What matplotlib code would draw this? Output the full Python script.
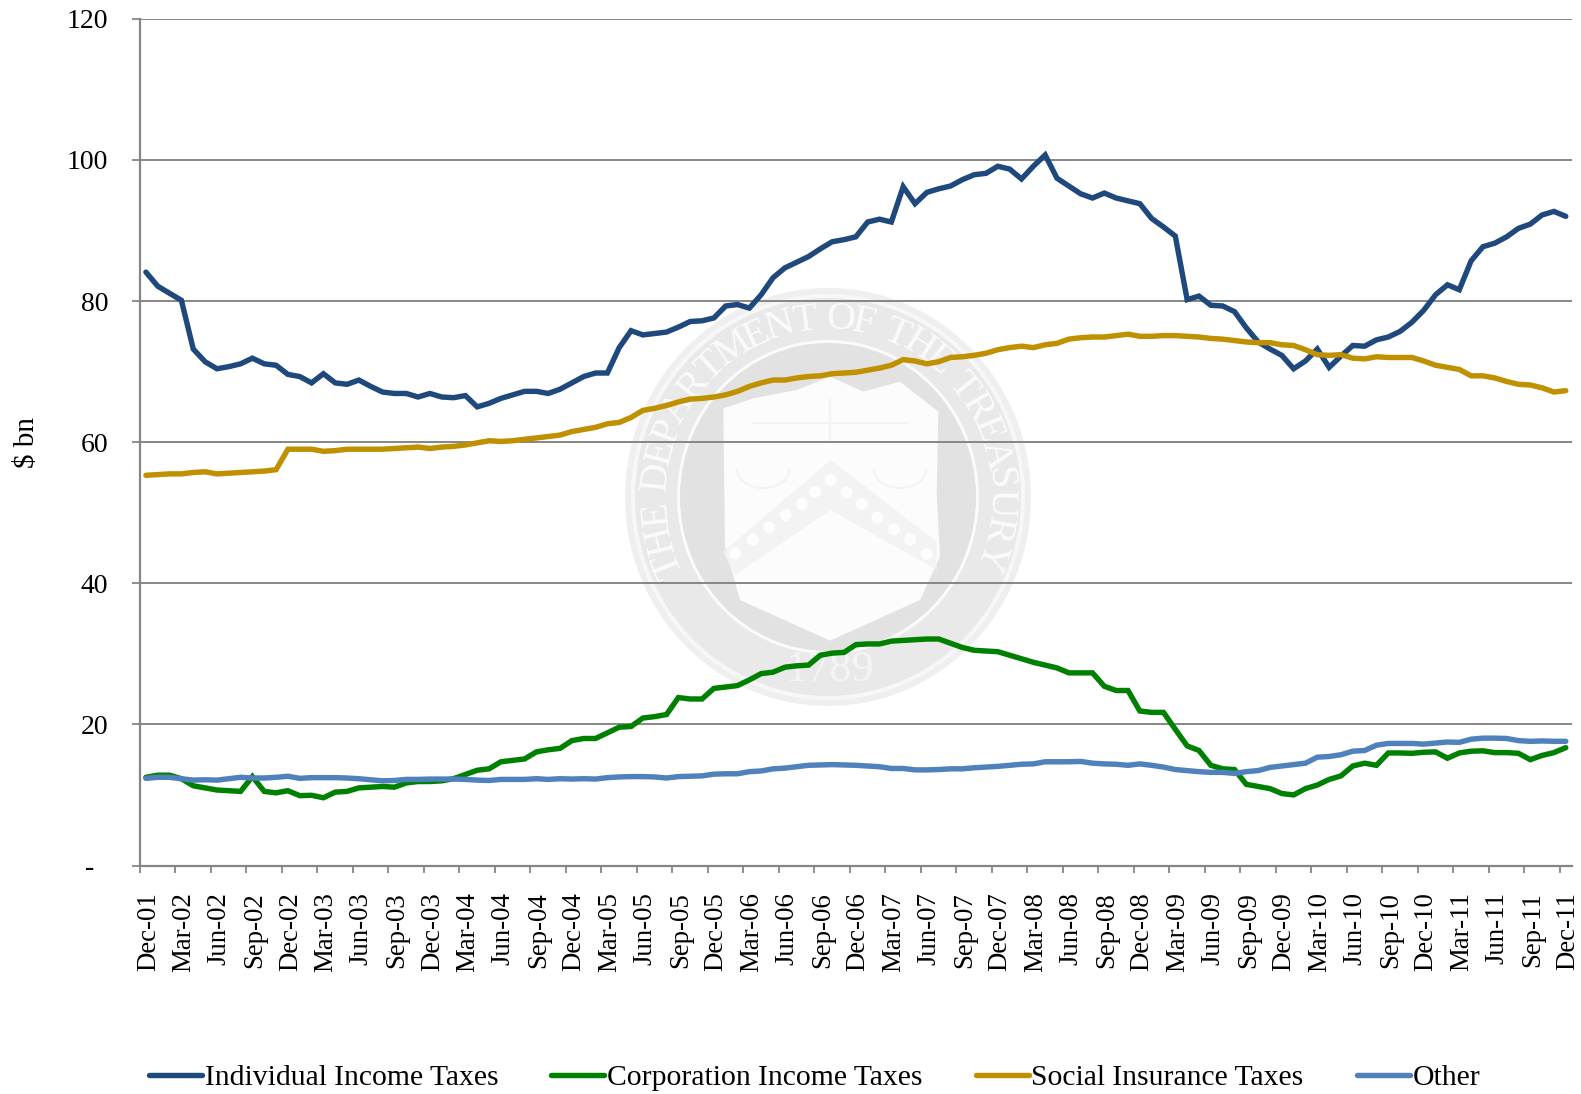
"""Monthly federal tax receipts by source, Dec-01 to Dec-11, with Treasury seal watermark."""
import numpy as np
import matplotlib
matplotlib.use("Agg")
import matplotlib.pyplot as plt
from matplotlib.patches import Ellipse, Polygon
from matplotlib.font_manager import FontProperties
from matplotlib.textpath import TextPath

plt.rcParams["font.family"] = ["Liberation Serif", "DejaVu Serif"]

individual = [
    84.1, 82.1, 81.1, 80.1, 73.2, 71.4, 70.4, 70.7, 71.1, 71.9, 71.1, 70.9,
    69.6, 69.3, 68.4, 69.7, 68.4, 68.2, 68.8, 67.9, 67.1, 66.9, 66.9, 66.4,
    66.9, 66.4, 66.3, 66.6, 65.0, 65.5, 66.2, 66.7, 67.2, 67.2, 66.9, 67.5,
    68.4, 69.3, 69.8, 69.8, 73.4, 75.8, 75.2, 75.4, 75.6, 76.3, 77.1, 77.2,
    77.6, 79.3, 79.5, 79.0, 80.9, 83.3, 84.7, 85.5, 86.3, 87.4, 88.4, 88.7,
    89.1, 91.2, 91.6, 91.2, 96.2, 93.8, 95.4, 95.9, 96.3, 97.2, 97.9, 98.1,
    99.1, 98.7, 97.3, 99.1, 100.7, 97.4, 96.3, 95.2, 94.6, 95.3, 94.6, 94.2,
    93.8, 91.7, 90.5, 89.2, 80.2, 80.7, 79.4, 79.3, 78.5, 76.2, 74.2, 73.2,
    72.3, 70.4, 71.5, 73.2, 70.6, 72.2, 73.7, 73.6, 74.5, 74.9, 75.7, 77.0,
    78.7, 80.9, 82.3, 81.6, 85.7, 87.7, 88.2, 89.1, 90.3, 90.9, 92.2, 92.7,
    92.0,
]
corporation = [
    12.5, 12.8, 12.8, 12.3, 11.3, 11.0, 10.7, 10.6, 10.5, 12.6, 10.5, 10.3,
    10.6, 9.9, 9.95, 9.6, 10.4, 10.5, 11.0, 11.1, 11.2, 11.1, 11.7, 11.9,
    11.9, 12.0, 12.3, 12.9, 13.5, 13.7, 14.7, 14.9, 15.1, 16.1, 16.4, 16.6,
    17.7, 18.0, 18.0, 18.8, 19.6, 19.7, 20.9, 21.1, 21.4, 23.8, 23.6, 23.6,
    25.1, 25.3, 25.5, 26.3, 27.2, 27.4, 28.1, 28.3, 28.4, 29.8, 30.1, 30.2,
    31.3, 31.4, 31.4, 31.8, 31.9, 32.0, 32.1, 32.1, 31.5, 30.9, 30.5, 30.4,
    30.3, 29.8, 29.3, 28.8, 28.4, 28.0, 27.3, 27.3, 27.3, 25.4, 24.8, 24.8,
    21.9, 21.7, 21.7, 19.3, 16.95, 16.3, 14.2, 13.7, 13.6, 11.5, 11.2, 10.9,
    10.2, 10.0, 10.9, 11.4, 12.2, 12.7, 14.1, 14.5, 14.2, 15.95, 15.95, 15.9,
    16.05, 16.1, 15.2, 15.95, 16.2, 16.25, 16.0, 16.0, 15.9, 15.0, 15.6, 16.0,
    16.7,
]
social = [
    55.3, 55.4, 55.5, 55.5, 55.7, 55.8, 55.5, 55.6, 55.7, 55.8, 55.9, 56.1,
    59.0, 59.0, 59.0, 58.7, 58.8, 59.0, 59.0, 59.0, 59.0, 59.1, 59.2, 59.3,
    59.1, 59.3, 59.4, 59.6, 59.9, 60.2, 60.1, 60.2, 60.4, 60.6, 60.8, 61.0,
    61.5, 61.8, 62.1, 62.6, 62.8, 63.5, 64.5, 64.8, 65.2, 65.7, 66.1, 66.2,
    66.4, 66.7, 67.2, 67.9, 68.4, 68.8, 68.8, 69.1, 69.3, 69.4, 69.7, 69.8,
    69.9, 70.2, 70.5, 70.9, 71.7, 71.5, 71.1, 71.4, 72.0, 72.1, 72.3, 72.6,
    73.1, 73.4, 73.6, 73.4, 73.8, 74.0, 74.6, 74.8, 74.9, 74.9, 75.1, 75.3,
    75.0, 75.0, 75.1, 75.1, 75.0, 74.9, 74.7, 74.6, 74.4, 74.2, 74.1, 74.1,
    73.8, 73.7, 73.1, 72.4, 72.3, 72.4, 71.9, 71.8, 72.1, 72.0, 72.0, 72.0,
    71.5, 70.9, 70.6, 70.3, 69.4, 69.4, 69.1, 68.6, 68.2, 68.1, 67.7, 67.1,
    67.3,
]
other = [
    12.35, 12.5, 12.5, 12.3, 12.1, 12.15, 12.1, 12.3, 12.5, 12.4, 12.4, 12.5,
    12.65, 12.35, 12.45, 12.45, 12.45, 12.4, 12.3, 12.15, 12.0, 12.05, 12.2, 12.2,
    12.25, 12.25, 12.25, 12.2, 12.1, 12.05, 12.2, 12.2, 12.2, 12.3, 12.2, 12.3,
    12.25, 12.3, 12.25, 12.45, 12.55, 12.6, 12.6, 12.55, 12.4, 12.6, 12.65, 12.7,
    12.95, 13.0, 13.0, 13.3, 13.4, 13.7, 13.8, 14.0, 14.2, 14.25, 14.3, 14.25,
    14.2, 14.1, 14.0, 13.75, 13.75, 13.55, 13.55, 13.6, 13.7, 13.7, 13.85, 13.95,
    14.05, 14.2, 14.35, 14.4, 14.7, 14.7, 14.7, 14.75, 14.5, 14.4, 14.35, 14.2,
    14.4, 14.2, 13.95, 13.6, 13.45, 13.3, 13.2, 13.2, 13.05, 13.3, 13.45, 13.9,
    14.1, 14.3, 14.5, 15.35, 15.45, 15.7, 16.2, 16.3, 17.05, 17.3, 17.3, 17.3,
    17.2, 17.35, 17.5, 17.45, 17.9, 18.05, 18.05, 18.0, 17.7, 17.6, 17.65, 17.6,
    17.6,
]

quarter_labels = ["Dec-01"] + [
    f"{m}-{y:02d}" for y in range(2, 12) for m in ("Mar", "Jun", "Sep", "Dec")
]
y_ticks = [0, 20, 40, 60, 80, 100, 120]
y_tick_labels = ["-  ", "20", "40", "60", "80", "100", "120"]

SERIES = [
    ("Individual Income Taxes", individual, "#1F497D"),
    ("Corporation Income Taxes", corporation, "#008000"),
    ("Social Insurance Taxes", social, "#BF9000"),
    ("Other", other, "#4F81BD"),
]
GRAY = "#868686"
SEAL_DARK = "#e2e2e2"
SEAL_BAND = "#e9e9e9"
SEAL_WHITE = "#fbfbfb"
SEAL_CX, SEAL_CY = 828, 497
SEAL_TEXT = "THE DEPARTMENT OF THE TREASURY"


def z(X, Y):
    """Seal crop coordinates to figure pixels."""
    return 620 + X / 3, 280 + Y / 3


def ring(bg, rx, ry, color, zorder=1):
    bg.add_patch(Ellipse((SEAL_CX, SEAL_CY), 2 * rx, 2 * ry, fc=color, ec="none", zorder=zorder))


def draw_seal(bg):
    """Grey watermark behind the plot, drawn in figure pixels."""
    ring(bg, 203, 209, "#efefef", 1)
    ring(bg, 197, 203, "#f7f7f7", 1.1)
    ring(bg, 193, 199, SEAL_BAND, 1.2)
    ring(bg, 151, 157, SEAL_WHITE, 1.3)
    ring(bg, 148, 154, SEAL_DARK, 1.4)

    shield = [z(*p) for p in [
        (310, 385), (400, 355), (530, 330), (630, 290), (730, 335), (840, 305),
        (955, 395), (950, 640), (960, 830), (900, 960), (630, 1082), (360, 960),
        (315, 800),
    ]]
    bg.add_patch(Polygon(shield, fc="#fcfcfc", ec="none", zorder=2))

    chevron = [z(*p) for p in [
        (310, 815), (632, 540), (950, 785), (950, 870), (632, 690), (345, 885),
    ]]
    bg.add_patch(Polygon(chevron, fc="#f3f3f3", ec="none", zorder=2.1))
    dots = [(345, 820), (398, 778), (447, 742), (497, 705), (545, 672), (585, 635),
            (632, 600), (680, 638), (725, 672), (772, 712), (822, 748), (870, 778),
            (920, 822)]
    for X, Y in dots:
        x, y = z(X, Y)
        bg.add_patch(Ellipse((x, y), 12, 12, fc="#fdfdfd", ec="none", zorder=2.2))

    # scales in the upper part of the shield
    for a, b in [((630, 360), (630, 480)), ((400, 430), (860, 430))]:
        xa, ya = z(*a)
        xb, yb = z(*b)
        bg.plot([xa, xb], [ya, yb], color="#f2f2f2", lw=1.5, zorder=2.2)
    for cx in (430, 840):
        t = np.linspace(0, np.pi, 30)
        px, py = z(cx, 570)
        bg.plot(px + 26 * np.cos(t), py + 18 * np.sin(t), color="#f3f3f3", lw=1.5, zorder=2.2)

    # lettering around the ring, clockwise from lower left
    font = FontProperties(family="Liberation Serif")
    size = 29
    px_size = size * 100 / 72
    widths = []
    for ch in SEAL_TEXT:
        if ch == " ":
            widths.append(px_size * 0.35)
        else:
            widths.append(TextPath((0, 0), ch, size=px_size, prop=font).get_extents().width + 6)
    start, end = np.radians(-116), np.radians(114)
    pos = np.cumsum([0] + widths[:-1]) + np.array(widths) / 2
    angles = start + (end - start) * pos / sum(widths)
    for ch, a in zip(SEAL_TEXT, angles):
        x = SEAL_CX + 172 * np.sin(a)
        y = SEAL_CY - 178 * np.cos(a)
        bg.text(x, y, ch, fontproperties=font, fontsize=size, color=SEAL_WHITE,
                rotation=-np.degrees(a), rotation_mode="anchor",
                ha="center", va="center", zorder=3)
    x, y = z(630, 1170)
    bg.text(x, y, "1789", fontproperties=font, fontsize=32, color="#f4f4f4",
            ha="center", va="center", zorder=3)


fig = plt.figure(figsize=(15.81, 10.94), dpi=100)

bg = fig.add_axes([0, 0, 1, 1], zorder=0)
bg.set_xlim(0, 1581)
bg.set_ylim(1094, 0)
bg.axis("off")
draw_seal(bg)

ax = fig.add_axes([140 / 1581, 1 - 865.5 / 1094, (1571.7 - 140) / 1581, (865.5 - 18.8) / 1094], zorder=1)
ax.patch.set_alpha(0)

x = np.arange(len(individual))
for label, values, color in SERIES:
    ax.plot(x, values, color=color, lw=3.9, label=label,
            solid_capstyle="round", solid_joinstyle="miter", zorder=3)

ax.set_xlim(-0.5, 120.5)
ax.set_ylim(0, 120)
ax.set_yticks(y_ticks)
ax.set_yticklabels(y_tick_labels, fontsize=20)
ax.yaxis.grid(True, color=GRAY, lw=1.4)
ax.set_axisbelow(True)

# tick marks sit between the categories, labels on the quarter itself
ax.set_xticks(np.arange(-0.5, 120, 3))
ax.set_xticklabels([])
ax.set_xticks(np.arange(0, 121, 3) + 0.2, minor=True)
ax.set_xticklabels(quarter_labels, minor=True, rotation=90, fontsize=19.4)
ax.tick_params(axis="x", which="major", length=5, width=1.3, color=GRAY)
ax.tick_params(axis="x", which="minor", length=0, pad=19)
ax.tick_params(axis="y", length=6, width=1.3, color=GRAY, pad=17)

for side in ("top", "right"):
    ax.spines[side].set_visible(False)
for side in ("left", "bottom"):
    ax.spines[side].set_color(GRAY)
    ax.spines[side].set_linewidth(1.6)

fig.text(27 / 1581, 1 - 443 / 1094, "$ bn", rotation=90, fontsize=21, ha="center", va="center")

ax.legend(
    loc="center left",
    bbox_to_anchor=(149 / 1581, 1 - 1078 / 1094),
    bbox_transform=fig.transFigure,
    ncol=4,
    frameon=False,
    fontsize=21.3,
    handlelength=1.78,
    handletextpad=0.1,
    columnspacing=1.8,
    borderpad=0,
    borderaxespad=0,
)

fig.savefig("out.png", dpi=100)
